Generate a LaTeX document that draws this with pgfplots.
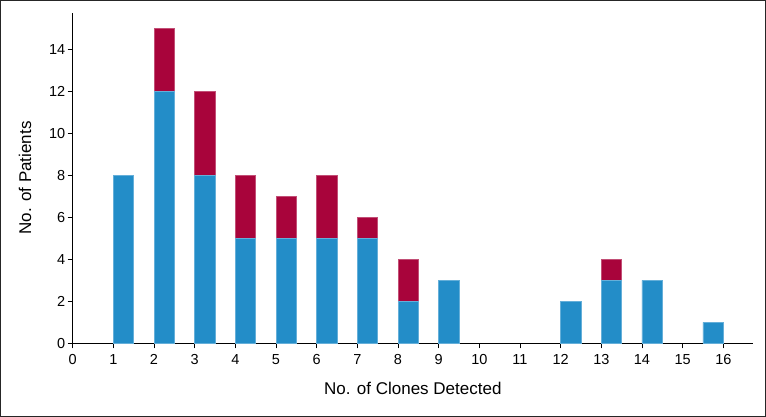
\documentclass[border=0pt]{standalone}
\usepackage{pgfplots}
\pgfplotsset{compat=1.18}
\usepackage{fontspec}
\setmainfont{Liberation Sans}
\definecolor{cblue}{HTML}{238DC8}
\definecolor{cred}{HTML}{A8043B}
\begin{document}
\begin{tikzpicture}
\useasboundingbox (0,0) rectangle (766pt,417pt);
\draw[line width=1.2pt, black!85] (0.6pt,0.6pt) rectangle (765.4pt,416.4pt);
\begin{axis}[
  at={(72.7pt,73.7pt)}, anchor=south west,
  scale only axis, width=680.3pt, height=330.6pt,
  xmin=0, xmax=16.73, ymin=0, ymax=15.74,
  axis x line=bottom, axis y line=left,
  axis line style={line width=1.2pt, -},
  x axis line style={-}, y axis line style={-},
  xtick={0,...,16}, ytick={0,2,...,14},
  tick align=outside, major tick length=5pt,
  tick style={line width=0.9pt, black},
  tick label style={font=\fontsize{14.5}{16}\selectfont},
  xticklabel style={yshift=-3pt},
  yticklabel style={xshift=1pt},
  /pgf/number format/assume math mode=true,
  xlabel={No. of Clones Detected}, ylabel={No. of Patients},
  label style={font=\fontsize{17}{19}\selectfont},
  xlabel style={at={(axis description cs:0.5,-0.138)}, anchor=center},
  ylabel style={at={(axis description cs:-0.07,0.5)}, anchor=center},
  ybar stacked, bar width=0.5, bar shift=0.25,
  clip=false,
]
\addplot[fill=cblue, draw=cblue!70!white, line width=0.4pt] coordinates {
 (1,8) (2,12) (3,8) (4,5) (5,5) (6,5) (7,5) (8,2) (9,3) (12,2) (13,3) (14,3) (15.5,1)};
\addplot[fill=cred, draw=cred!70!white, line width=0.4pt] coordinates {
 (1,0) (2,3) (3,4) (4,3) (5,2) (6,3) (7,1) (8,2) (9,0) (12,0) (13,1) (14,0) (15.5,0)};
\end{axis}
\end{tikzpicture}
\end{document}
